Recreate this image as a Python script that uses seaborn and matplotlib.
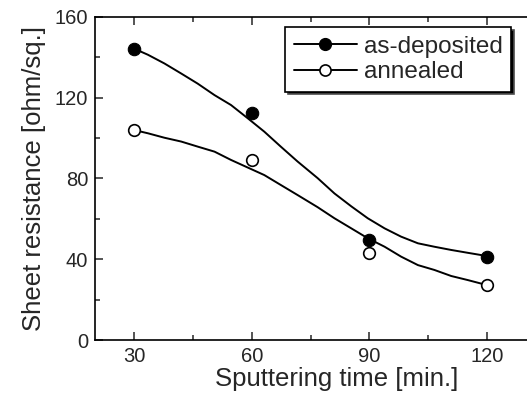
import numpy as np
import pandas as pd
import seaborn as sns
import matplotlib.pyplot as plt
from matplotlib.lines import Line2D
from matplotlib.ticker import MultipleLocator

# measured points
time_min = [30, 60, 90, 120]
as_deposited = [144.3, 112.5, 49.5, 41]
annealed = [104, 89, 43, 27.2]

# fitted curves
fit_x_dep = [30, 33.5, 37.7, 42, 46.2, 50.5, 54.7, 59, 63.2, 67.4, 71.7, 76.8,
             81.1, 85.4, 89.6, 93.9, 98.1, 102.4, 106.6, 110.9, 115.1, 120]
fit_y_dep = [144.3, 141.3, 137, 132, 127, 121.3, 116.4, 109.8, 103.2, 95.8, 88.4, 80.2,
             72.6, 66.2, 60.3, 55.3, 51.2, 47.9, 46.2, 44.6, 43.2, 41.6]
fit_x_ann = [30, 33.5, 37.7, 42, 46.2, 50.5, 54.7, 58.1, 63.2, 67.4, 71.7, 76.8,
             81.1, 85.4, 89.6, 93.9, 98.1, 102.4, 106.6, 110.9, 115.1, 120]
fit_y_ann = [104, 102.4, 100.2, 98.3, 95.8, 93.3, 89.2, 86.2, 81.7, 76.8, 71.8, 65.8,
             60.3, 55.3, 50.4, 46.2, 41.3, 37.1, 34.7, 31.7, 29.7, 27.2]

sns.set_style('ticks')
plt.rcParams['font.family'] = ['Liberation Sans', 'DejaVu Sans']

fig = plt.figure(figsize=(5.27, 3.97), dpi=100)
ax = fig.add_axes([95 / 527, 1 - 340 / 397, 484 / 527, 323 / 397])

sns.lineplot(x=fit_x_dep, y=fit_y_dep, color='k', lw=1.4, ax=ax, zorder=2)
sns.lineplot(x=fit_x_ann, y=fit_y_ann, color='k', lw=1.4, ax=ax, zorder=2)
sns.scatterplot(x=time_min, y=as_deposited, color='k', s=80, edgecolor='k', linewidth=0.8, ax=ax, zorder=3)
sns.scatterplot(x=time_min, y=annealed, color='white', s=70, edgecolor='k', linewidth=1.2, ax=ax, zorder=3)

ax.set_xlim(20, 143.5)
ax.set_ylim(0, 160)
ax.xaxis.set_major_locator(MultipleLocator(30))
ax.xaxis.set_minor_locator(MultipleLocator(15))
ax.yaxis.set_major_locator(MultipleLocator(40))
ax.yaxis.set_minor_locator(MultipleLocator(20))
ax.tick_params(which='both', direction='in', top=True, right=True, width=1.1, labelsize=14.5, pad=5)
ax.tick_params(which='major', length=6)
ax.tick_params(which='minor', length=3.5)
for s in ax.spines.values():
    s.set_linewidth(1.2)
    s.set_color('k')

ax.set_xlabel('Sputtering time [min.]', fontsize=18.5, labelpad=1)
ax.set_ylabel('Sheet resistance [ohm/sq.]', fontsize=18.5, labelpad=6)

handles = [
    Line2D([], [], color='k', lw=1.4, marker='o', ms=8.5, mfc='k', mec='k'),
    Line2D([], [], color='k', lw=1.4, marker='o', ms=8, mfc='white', mec='k', mew=1.2),
]
leg = ax.legend(handles, ['as-deposited', 'annealed'], loc='upper left',
                bbox_to_anchor=(190 / 484, 313 / 323), borderaxespad=0,
                fontsize=17.5, frameon=True, fancybox=False, shadow={'facecolor': 'k', 'alpha': 1},
                handlelength=2.6, handletextpad=0.3, labelspacing=0.15, borderpad=0.35,
                edgecolor='k', framealpha=1)
leg.get_frame().set_linewidth(1.2)

plt.savefig('out.png', dpi=100)
